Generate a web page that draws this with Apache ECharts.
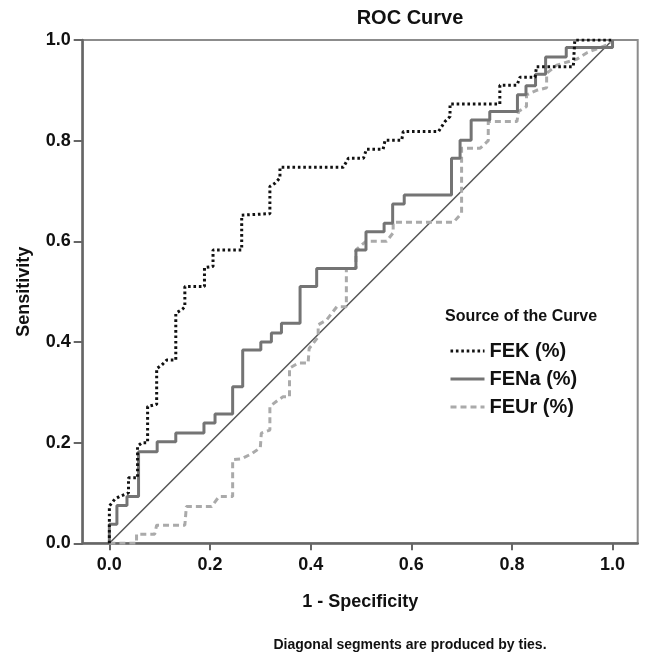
<!DOCTYPE html>
<html>
<head>
<meta charset="utf-8">
<script src="https://cdn.jsdelivr.net/npm/echarts@6/dist/echarts.min.js"></script>
<style>
html,body{margin:0;padding:0;background:#fff;}
#chart{width:645px;height:657px;}
</style>
</head>
<body>
<div id="chart"></div>
<script>
// ---- data (x = 1 - Specificity, y = Sensitivity) ----
var tickValues = [0, 0.2, 0.4, 0.6, 0.8, 1.0];
var seriesNames = ['FEK (%)', 'FENa (%)', 'FEUr (%)'];

var fekPoints = [[0,0],[0,0.074],[0.011,0.088],[0.02,0.093],[0.038,0.1],[0.038,0.13],[0.056,0.13],[0.056,0.193],[0.065,0.2],[0.076,0.2],[0.076,0.272],[0.094,0.276],[0.094,0.347],[0.104,0.354],[0.114,0.364],[0.132,0.364],[0.132,0.457],[0.145,0.465],[0.15,0.47],[0.15,0.51],[0.189,0.51],[0.189,0.548],[0.206,0.55],[0.206,0.583],[0.263,0.583],[0.263,0.652],[0.319,0.655],[0.319,0.709],[0.33,0.716],[0.339,0.726],[0.339,0.747],[0.465,0.747],[0.475,0.765],[0.505,0.765],[0.511,0.783],[0.544,0.783],[0.548,0.801],[0.581,0.801],[0.584,0.818],[0.654,0.818],[0.667,0.838],[0.677,0.848],[0.677,0.873],[0.776,0.873],[0.776,0.91],[0.81,0.91],[0.816,0.926],[0.846,0.926],[0.849,0.947],[0.922,0.947],[0.925,1.0],[1,1]];

var fenaPoints = [[0,0],[0,0.038],[0.015,0.038],[0.015,0.075],[0.035,0.075],[0.035,0.093],[0.058,0.093],[0.058,0.182],[0.095,0.182],[0.095,0.202],[0.132,0.202],[0.132,0.219],[0.188,0.219],[0.188,0.239],[0.21,0.239],[0.21,0.257],[0.245,0.257],[0.245,0.311],[0.265,0.311],[0.265,0.384],[0.301,0.384],[0.301,0.4],[0.322,0.4],[0.322,0.418],[0.342,0.418],[0.342,0.437],[0.379,0.437],[0.379,0.51],[0.412,0.51],[0.412,0.546],[0.49,0.546],[0.49,0.583],[0.51,0.583],[0.51,0.619],[0.546,0.619],[0.546,0.636],[0.563,0.636],[0.563,0.674],[0.586,0.674],[0.586,0.692],[0.68,0.692],[0.68,0.765],[0.697,0.765],[0.697,0.801],[0.719,0.801],[0.719,0.841],[0.756,0.841],[0.756,0.858],[0.811,0.858],[0.811,0.891],[0.828,0.891],[0.828,0.909],[0.847,0.909],[0.847,0.932],[0.867,0.932],[0.867,0.966],[0.908,0.966],[0.908,0.985],[1,0.985],[1,1]];

var feurPoints = [[0,0],[0.054,0],[0.054,0.018],[0.09,0.018],[0.094,0.036],[0.15,0.036],[0.153,0.073],[0.203,0.073],[0.218,0.093],[0.245,0.093],[0.245,0.166],[0.263,0.168],[0.283,0.178],[0.3,0.19],[0.302,0.219],[0.319,0.225],[0.319,0.272],[0.336,0.285],[0.345,0.291],[0.358,0.291],[0.358,0.348],[0.375,0.358],[0.395,0.358],[0.397,0.387],[0.415,0.41],[0.415,0.434],[0.432,0.444],[0.452,0.47],[0.471,0.47],[0.471,0.546],[0.49,0.546],[0.49,0.583],[0.51,0.6],[0.551,0.6],[0.564,0.617],[0.564,0.638],[0.684,0.638],[0.7,0.656],[0.7,0.785],[0.737,0.785],[0.753,0.8],[0.753,0.838],[0.81,0.838],[0.813,0.858],[0.829,0.868],[0.829,0.891],[0.849,0.9],[0.869,0.905],[0.869,0.934],[0.889,0.95],[0.929,0.962],[0.95,0.975],[0.97,0.983],[0.988,0.99],[1,1]];

var diagonalPoints = [[0,0],[1,1]];

// ---- chart ----
var FONT = '"Liberation Sans", Arial, sans-serif';
var chart = echarts.init(document.getElementById('chart'), null, {renderer: 'canvas'});

var option = {
  backgroundColor: '#ffffff',
  animation: false,
  grid: {
    left: 82.7, right: 7.3, top: 40, bottom: 113.7,
    show: true, borderColor: '#8c8c8c', borderWidth: 2, backgroundColor: 'transparent'
  },
  xAxis: {
    type: 'value', min: -0.053, max: 1.05,
    name: '1 - Specificity', nameLocation: 'middle', nameGap: 50,
    nameTextStyle: {fontFamily: FONT, fontSize: 18, fontWeight: 'bold', color: '#111'},
    axisLine: {show: true, onZero: false, lineStyle: {color: '#666', width: 2.5}},
    axisTick: {show: true, length: 7, lineStyle: {color: '#666', width: 2}, customValues: tickValues},
    axisLabel: {margin: 13, fontFamily: FONT, fontSize: 18, fontWeight: 'bold', color: '#111',
      customValues: tickValues, formatter: function(v){ return v.toFixed(1); }},
    splitLine: {show: false}
  },
  yAxis: {
    type: 'value', min: 0, max: 1,
    name: 'Sensitivity', nameLocation: 'middle', nameGap: 50, nameRotate: 90,
    nameTextStyle: {fontFamily: FONT, fontSize: 18, fontWeight: 'bold', color: '#111'},
    axisLine: {show: true, onZero: false, lineStyle: {color: '#666', width: 2.5}},
    axisTick: {show: true, length: 9, lineStyle: {color: '#666', width: 2}, customValues: tickValues},
    axisLabel: {margin: 12, fontFamily: FONT, fontSize: 18, fontWeight: 'bold', color: '#111',
      customValues: tickValues, formatter: function(v){ return v.toFixed(1); }},
    splitLine: {show: false}
  },
  legend: {
    data: seriesNames,
    orient: 'vertical', left: 449, top: 341, padding: 0,
    itemWidth: 34, itemHeight: 20, itemGap: 8,
    itemStyle: {opacity: 0},
    lineStyle: {width: 3},
    textStyle: {fontFamily: FONT, fontSize: 20, fontWeight: 'bold', color: '#111'},
    selectedMode: false
  },
  graphic: [
    {type: 'text', x: 410, y: 18, style: {text: 'ROC Curve', font: 'bold 20px ' + FONT, fill: '#111', textAlign: 'center', textVerticalAlign: 'middle'}},
    {type: 'text', x: 445, y: 317, style: {text: 'Source of the Curve', font: 'bold 16px ' + FONT, fill: '#111', textAlign: 'left', textVerticalAlign: 'middle'}},
    {type: 'text', x: 410, y: 645, style: {text: 'Diagonal segments are produced by ties.', font: 'bold 14px ' + FONT, fill: '#111', textAlign: 'center', textVerticalAlign: 'middle'}}
  ],
  series: [
    {name: 'diag', type: 'line', data: diagonalPoints, symbol: 'none', silent: true,
      lineStyle: {color: '#555', width: 1.5}, z: 1},
    {name: seriesNames[2], type: 'line', data: feurPoints, symbol: 'none',
      itemStyle: {color: '#aaaaaa'},
      lineStyle: {color: '#aaaaaa', width: 3, type: [6, 4]}, z: 2},
    {name: seriesNames[1], type: 'line', data: fenaPoints, symbol: 'none',
      itemStyle: {color: '#747474'},
      lineStyle: {color: '#747474', width: 3, type: 'solid'}, z: 3},
    {name: seriesNames[0], type: 'line', data: fekPoints, symbol: 'none',
      itemStyle: {color: '#111'},
      lineStyle: {color: '#111', width: 3, type: [2.6, 2.8]}, z: 4}
  ]
};
chart.setOption(option);
</script>
</body>
</html>
